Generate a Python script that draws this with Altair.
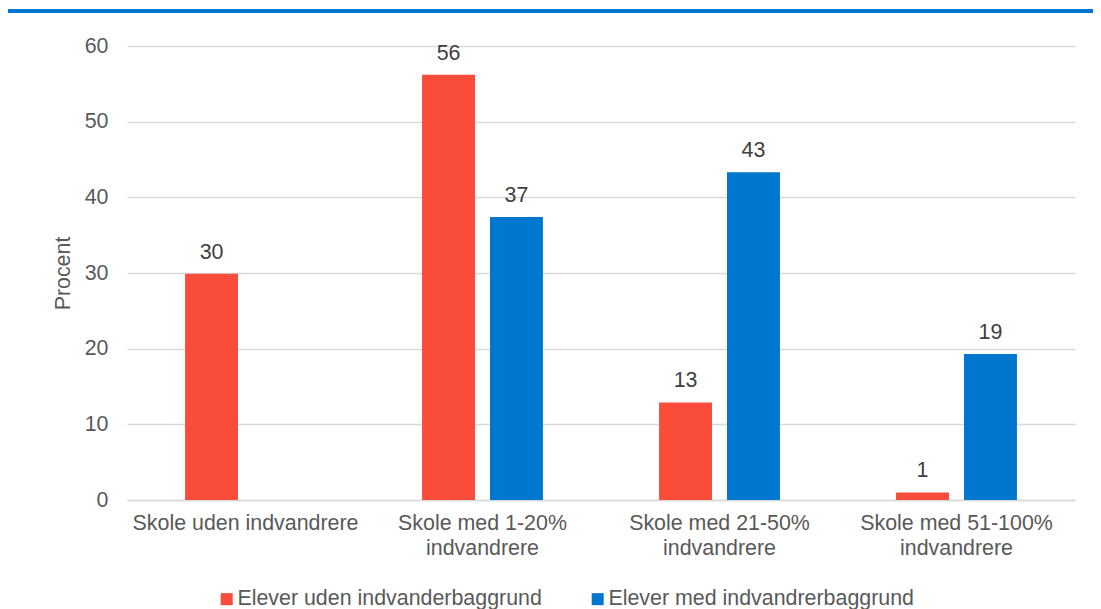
import altair as alt
import pandas as pd

categories = [
    "Skole uden indvandrere",
    "Skole med 1-20% indvandrere",
    "Skole med 21-50% indvandrere",
    "Skole med 51-100% indvandrere",
]
series = ["Elever uden indvanderbaggrund", "Elever med indvandrerbaggrund"]
uden = [29.9, 56.2, 12.9, 1.0]
med = [None, 37.4, 43.3, 19.3]
colors = ["#F94C3B", "#0077CF"]
y_ticks = [0, 10, 20, 30, 40, 50, 60]

rows = []
for c, a, b in zip(categories, uden, med):
    if a is not None:
        rows.append({"category": c, "series": series[0], "value": a})
    if b is not None:
        rows.append({"category": c, "series": series[1], "value": b})
df = pd.DataFrame(rows)

FONT = "Liberation Sans"
GRAY = "#595959"
FS = 21.4

label_expr = ("datum.label == 'Skole uden indvandrere' ? datum.label : "
              "[replace(datum.label, ' indvandrere', ''), 'indvandrere']")

base = alt.Chart(df).encode(
    x=alt.X(
        "category:N",
        sort=categories,
        scale=alt.Scale(paddingInner=0.49, paddingOuter=0.245),
        axis=alt.Axis(
            title=None, labelAngle=0, labelExpr=label_expr, labelFontSize=FS,
            labelColor=GRAY, labelPadding=12, labelLineHeight=25, ticks=False,
            domainColor="#d9d9d9", domainWidth=1.5, labelFont=FONT, grid=False,
            labelLimit=400,
        ),
    ),
    xOffset=alt.XOffset("series:N", sort=series,
                        scale=alt.Scale(domain=series, paddingInner=0.221, paddingOuter=0)),
    y=alt.Y(
        "value:Q",
        scale=alt.Scale(domain=[0, 60], nice=False),
        axis=alt.Axis(
            values=y_ticks, title="Procent", titleFontSize=FS, titleColor=GRAY,
            titleFontWeight="normal", titleFont=FONT, titlePadding=11,
            labelFontSize=FS, labelColor=GRAY, labelFont=FONT, labelPadding=19,
            ticks=False, domain=False, gridColor="#d9d9d9", gridWidth=1.5,
        ),
    ),
)

bars = base.mark_bar().encode(
    color=alt.Color(
        "series:N",
        sort=series,
        scale=alt.Scale(domain=series, range=colors),
        legend=alt.Legend(
            title=None, orient="none", legendX=89, legendY=542, direction="horizontal",
            symbolType="square", symbolSize=144, symbolStrokeWidth=0,
            labelFontSize=FS, labelColor=GRAY, labelFont=FONT, labelLimit=400,
            columnPadding=45, labelOffset=0,
        ),
    )
)

texts = base.mark_text(dy=-15, baseline="alphabetic", fontSize=FS, color="#404040",
                       font=FONT).encode(text=alt.Text("value:Q", format=".0f"))

top_line = alt.Chart(pd.DataFrame({"a": [0]})).mark_rule(
    color="#0077CF", strokeWidth=4
).encode(x=alt.value(-119), x2=alt.value(966), y=alt.value(-35))

chart = alt.layer(bars, texts, top_line).properties(
    width=948, height=454,
    autosize="none",
    padding={"left": 119, "top": 38, "right": 18, "bottom": 109},
    background="white",
).configure(font=FONT).configure_view(stroke=None, strokeWidth=0)

chart.save("out.html", embed_options={"renderer": "svg", "actions": False})
